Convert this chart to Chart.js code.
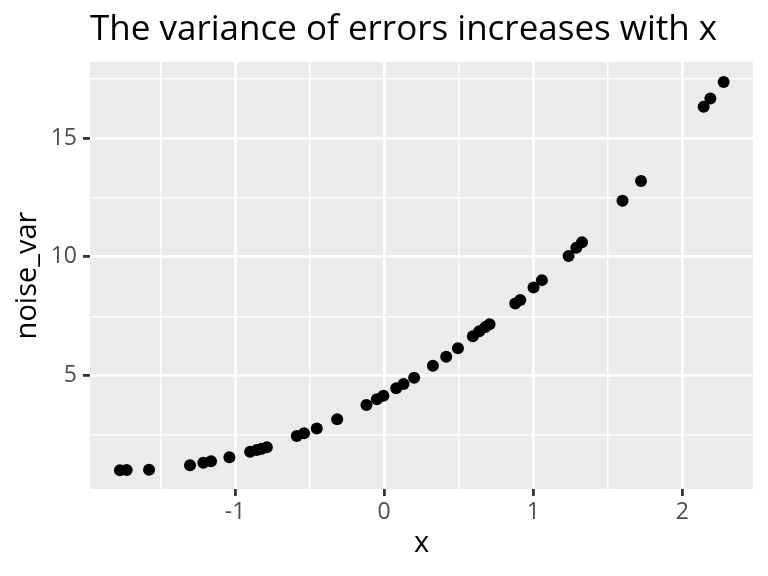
<!DOCTYPE html>
<html>
<head>
<meta charset="utf-8">
<script src="https://cdn.jsdelivr.net/npm/chart.js@4"></script>
<style>
    body { margin: 0; background: #fff; }
    #wrap { width: 768px; height: 576px; }
</style>
</head>
<body>
<div id="wrap"><canvas id="chart" width="768" height="576"></canvas></div>
<script>
/* noise_var vs x */
const xValues = [-1.772, -1.727, -1.577, -1.302, -1.213, -1.161, -1.038, -0.899, -0.854, -0.821,
                 -0.787, -0.586, -0.537, -0.452, -0.315, -0.119, -0.049, -0.005, 0.081, 0.130,
                 0.201, 0.327, 0.416, 0.495, 0.595, 0.638, 0.678, 0.707, 0.879, 0.913,
                 1.002, 1.058, 1.237, 1.289, 1.327, 1.599, 1.723, 2.143, 2.188, 2.277];
const noiseVar = [1.01, 1.02, 1.03, 1.22, 1.33, 1.39, 1.56, 1.79, 1.86, 1.92,
                  1.98, 2.45, 2.57, 2.77, 3.16, 3.76, 4.00, 4.15, 4.46, 4.64,
                  4.91, 5.41, 5.79, 6.15, 6.66, 6.87, 7.04, 7.16, 8.04, 8.18,
                  8.71, 9.02, 10.04, 10.38, 10.62, 12.36, 13.20, 16.32, 16.67, 17.37];

const xTicks = [-1.5, -1, -0.5, 0, 0.5, 1, 1.5, 2];
const yTicks = [2.5, 5, 7.5, 10, 12.5, 15, 17.5];
const xRange = [-1.973, 2.474];
const yRange = [0.22, 18.21];

const titleText = 'The variance of errors increases with x';
const FONT = "'Open Sans', 'DejaVu Sans', sans-serif";

const isMajor = v => Math.abs(v - Math.round(v)) < 1e-9;
const isMajorY = v => Math.abs(v / 5 - Math.round(v / 5)) < 1e-9;

// grey panel + left-aligned title, ggplot style
const ggPanel = {
    id: 'ggPanel',
    beforeDraw(chart) {
        const { ctx, chartArea: a } = chart;
        ctx.save();
        ctx.fillStyle = '#EBEBEB';
        ctx.fillRect(a.left, a.top, a.right - a.left, a.bottom - a.top);
        ctx.restore();
    },
    afterDraw(chart) {
        const { ctx, chartArea: a } = chart;
        ctx.save();
        ctx.fillStyle = '#000';
        ctx.font = '35px ' + FONT;
        ctx.textBaseline = 'alphabetic';
        ctx.textAlign = 'left';
        ctx.fillText(titleText, a.left, 40);
        ctx.restore();
    }
};

new Chart(document.getElementById('chart'), {
    type: 'scatter',
    data: {
        datasets: [{
            data: xValues.map((x, i) => ({ x: x, y: noiseVar[i] })),
            backgroundColor: '#000',
            borderWidth: 0,
            pointRadius: 6,
            pointHoverRadius: 6
        }]
    },
    options: {
        responsive: false,
        animation: false,
        devicePixelRatio: 1,
        layout: { padding: { top: 62, right: 15, left: 0, bottom: 0 } },
        plugins: { legend: { display: false }, tooltip: { enabled: false }, title: { display: false } },
        scales: {
            x: {
                type: 'linear',
                min: xRange[0], max: xRange[1],
                afterBuildTicks: s => { s.ticks = xTicks.map(v => ({ value: v })); },
                afterFit: s => { s.height = 87; },
                border: { display: false },
                grid: {
                    color: '#fff',
                    lineWidth: c => isMajor(c.tick.value) ? 2.8 : 1.4,
                    tickColor: c => isMajor(c.tick.value) ? '#333' : 'rgba(0,0,0,0)',
                    tickLength: 7,
                    tickWidth: 2.8
                },
                ticks: {
                    autoSkip: false, maxRotation: 0,
                    color: '#4D4D4D',
                    font: { family: FONT, size: 23 },
                    padding: 3,
                    callback: v => isMajor(v) ? String(v) : ''
                },
                title: {
                    display: true, text: 'x', color: '#000',
                    font: { family: FONT, size: 29 },
                    padding: { top: 0, bottom: 15 }
                }
            },
            y: {
                type: 'linear',
                min: yRange[0], max: yRange[1],
                afterBuildTicks: s => { s.ticks = yTicks.map(v => ({ value: v })); },
                afterFit: s => { s.width = 90; },
                border: { display: false },
                grid: {
                    color: '#fff',
                    lineWidth: c => isMajorY(c.tick.value) ? 2.8 : 1.4,
                    tickColor: c => isMajorY(c.tick.value) ? '#333' : 'rgba(0,0,0,0)',
                    tickLength: 7,
                    tickWidth: 2.8
                },
                ticks: {
                    autoSkip: false,
                    color: '#4D4D4D',
                    font: { family: FONT, size: 23 },
                    padding: 6,
                    callback: v => isMajorY(v) ? String(v) : ''
                },
                title: {
                    display: true, text: 'noise_var', color: '#000',
                    font: { family: FONT, size: 29 },
                    padding: { top: 10, bottom: 0 }
                }
            }
        }
    },
    plugins: [ggPanel]
});
</script>
</body>
</html>
